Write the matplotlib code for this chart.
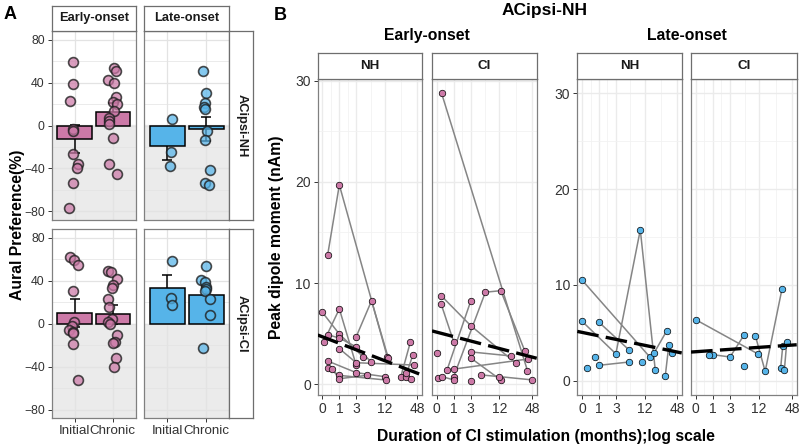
import numpy as np
import matplotlib.pyplot as plt
from matplotlib.colors import to_rgba

plt.rcParams['font.family'] = ['Liberation Sans', 'DejaVu Sans']

W, H = 799, 445
PINK = '#CC79A7'
BLUE = '#56B4E9'
GRID = '#E3E3E3'
FRAME = '#808080'

# ---------------- panel A: aural preference ----------------
groups = ['Initial', 'Chronic']

# bar means and standard errors, [Initial, Chronic]
nh_early_mean = [-12.6, 13.0]
nh_early_se = [13.0, 7.6]
nh_late_mean = [-19.4, -3.4]
nh_late_se = [12.3, 11.2]
ci_early_mean = [10.3, 8.7]
ci_early_se = [13.0, 8.7]
ci_late_mean = [33.0, 26.5]
ci_late_se = [12.5, 7.5]

# individual subjects (values) and their jitter as drawn
nh_early_init = [58.7, 38.6, 23.1, -3, -5, -27, -36, -40, -54, -77]
nh_early_init_jit = [-0.03, -0.03, -0.12, -0.05, -0.04, -0.05, 0.10, 0.07, -0.03, -0.14]
nh_early_chr = [53.7, 50.6, 42.3, 39.8, 26.9, 22.2, 19.8, 13.6, 7, 4, 1, -11.7, -35.5, -44.8]
nh_early_chr_jit = [0.04, 0.08, -0.12, 0.04, 0.08, 0.0, 0.10, 0.04, -0.09, -0.09, -0.09, 0.0, -0.09, 0.10]
nh_late_init = [5.9, -25, -38]
nh_late_init_jit = [0.12, 0.10, 0.07]
nh_late_chr = [50.4, 30, 20.7, 17, 15.5, -5.5, -13.2, -41, -54, -55]
nh_late_chr_jit = [-0.09, 0.0, -0.04, -0.06, -0.02, 0.03, -0.02, 0.10, -0.02, 0.07]

ci_early_init = [62, 59.5, 55, 30.5, 2, -2.2, -5.5, -7.5, -9, -18.5, -52.7]
ci_early_init_jit = [-0.12, -0.02, 0.10, -0.03, -0.02, -0.08, -0.14, -0.03, -0.03, -0.03, 0.08]
ci_early_chr = [49, 48.5, 41.5, 36.5, 33.5, 23.5, 15.7, 4.4, 1.9, 0.2, -10.3, -16.6, -18.2, -31.7, -40.1]
ci_early_chr_jit = [-0.12, -0.05, 0.10, 0.01, -0.03, -0.12, -0.09, -0.03, -0.12, -0.07, 0.10, 0.06, 0.01, 0.08, 0.04]
ci_late_init = [58.5, 23.6, 17.1]
ci_late_init_jit = [0.12, 0.09, 0.12]
ci_late_chr = [53.5, 40.4, 39, 34.5, 32.7, 30.5, 23.3, 8.2, -22.4]
ci_late_chr_jit = [0.0, -0.12, -0.03, 0.0, 0.0, -0.02, 0.10, 0.10, -0.09]

# ---------------- panel B: peak dipole moment ----------------
# subject id, months of CI use, peak dipole moment (nAm)
en_nh_id = [1, 1, 1, 2, 2, 2, 3, 3, 3, 4, 4, 4, 5, 5, 5, 5, 6, 6, 6, 7, 7, 7, 8, 8, 8, 9, 9, 9, 10, 10, 11, 11, 12, 12]
en_nh_mo = [0.24, 1, 13.3, 3, 6.5, 14, 0, 1, 4.26, 0.05, 1, 3, 0.24, 1, 3, 6.4, 1, 3, 42.7,
            0.24, 3, 11.9, 0.24, 1, 12.5, 0.5, 1, 5.3, 24, 36, 29.3, 39.8, 29.3, 37.7]
en_nh_val = [12.8, 19.7, 2.73, 4.7, 8.25, 2.55, 7.1, 4.96, 2.73, 4.18, 7.45, 1.88, 4.9, 4.57, 3.7, 2.2,
             3.52, 2.13, 1.9, 2.3, 1.15, 0.75, 1.64, 0.88, 0.42, 1.5, 0.55, 0.89, 0.76, 4.18, 0.76, 2.87,
             1.15, 0.5]

en_ci_id = [1, 1, 2, 2, 2, 3, 3, 4, 4, 5, 5, 5, 5, 6, 6, 7, 7, 8, 8, 8, 9, 9, 10, 10, 10, 11, 12]
en_ci_mo = [0.22, 39.8, 0.2, 3, 24.4, 0.2, 1, 0.52, 3, 1, 6.3, 12.7, 35.6, 3, 19.7, 1, 41,
            0.05, 0.24, 1, 3, 12.7, 5.2, 11.8, 49, 0, 3]
en_ci_val = [28.75, 1.35, 8.75, 5.8, 2.08, 7.9, 4.2, 1.4, 8.2, 0.76, 9.1, 9.25, 3.3, 3.2, 2.8, 1.5, 2.5,
             0.6, 0.76, 0.43, 2.6, 0.43, 0.92, 0.76, 0.43, 3.07, 0.36]

lo_nh_id = [1, 1, 2, 2, 2, 2, 3, 3, 4, 5, 6, 6, 7, 8, 8, 9, 10, 10]
lo_nh_mo = [0, 15.1, 0, 3, 9.9, 19.1, 1, 6, 0.22, 0.72, 1, 6, 10.9, 29.3, 34.2, 38.8, 18.3, 31.1]
lo_nh_val = [10.5, 2.47, 6.2, 2.8, 15.75, 1.15, 6.1, 3.16, 1.32, 2.43, 1.6, 1.95, 1.98, 0.45, 3.75,
             2.89, 2.92, 5.18]

lo_ci_id = [1, 1, 2, 2, 2, 3, 4, 5, 5, 5, 6, 6, 7, 7]
lo_ci_mo = [0, 11.3, 1, 3, 6, 0.74, 6, 10.2, 15.6, 31.9, 30.1, 32.8, 35.1, 38.8]
lo_ci_val = [6.36, 2.8, 2.71, 2.47, 4.73, 2.71, 1.5, 4.66, 0.97, 9.6, 1.32, 3.58, 1.07, 4.0]

# linear fits on log(1 + months): intercept, slope
en_nh_fit = (4.69, -0.923)
en_ci_fit = (5.15, -0.631)
lo_nh_fit = (5.04, -0.526)
lo_ci_fit = (3.02, 0.178)

month_ticks = [0, 1, 3, 12, 48]


fig = plt.figure(figsize=(W / 100, H / 100), dpi=100)


def add_ax(x0, y0, x1, y1):
    # pixel box (top-left origin) -> figure axes
    return fig.add_axes([x0 / W, 1 - y1 / H, (x1 - x0) / W, (y1 - y0) / H])


def frame(ax, color=FRAME, lw=0.9):
    for s in ax.spines.values():
        s.set_color(color)
        s.set_linewidth(lw)


def strip(box, text, rot=0, size=9.3):
    ax = add_ax(*box)
    ax.set_xticks([])
    ax.set_yticks([])
    ax.set_facecolor('white')
    frame(ax, '#6E6E6E')
    ax.text(0.5, 0.5, text, transform=ax.transAxes, ha='center', va='center',
            rotation=rot, fontsize=size, fontweight='bold', color='#1A1A1A')


def bar_panel(ax, means, ses, init, init_jit, chr_, chr_jit, color, left, bottom):
    ax.axhspan(-100, 0, color='#EBEBEB', zorder=0)
    x = np.arange(1, 3)
    ax.errorbar(x, means, yerr=ses, fmt='none', ecolor='black', elinewidth=1.1,
                capsize=3.5, capthick=1.1, zorder=1.5)
    ax.bar(x, means, width=0.9, color=color, edgecolor='black', linewidth=1.1, zorder=2)
    for xi, ys, js in ((1, init, init_jit), (2, chr_, chr_jit)):
        ax.scatter(xi + np.array(js), ys, s=50, facecolor=to_rgba(color, 0.72),
                   edgecolor=(0.12, 0.12, 0.12, 0.8), linewidths=1.2, zorder=3)
    ax.set_xlim(0.4, 2.6)
    ax.set_ylim(-88, 88)
    ax.set_xticks(x)
    ax.set_xticklabels(groups)
    ax.set_yticks([-80, -40, 0, 40, 80])
    ax.set_yticks([-60, -20, 20, 60], minor=True)
    ax.grid(which='major', color=GRID, lw=0.9)
    ax.grid(which='minor', axis='y', color=GRID, lw=0.5)
    ax.set_axisbelow(True)
    ax.tick_params(which='minor', length=0)
    ax.tick_params(axis='y', labelsize=8.8, colors='#333333', length=3, width=0.7,
                   labelleft=left, left=left, pad=2)
    ax.tick_params(axis='x', labelsize=9.6, colors='#333333', length=3, width=0.7,
                   labelbottom=bottom, bottom=bottom, pad=2)
    frame(ax)


def fwd(x):
    with np.errstate(invalid='ignore', divide='ignore'):
        return np.log1p(x)


def inv(x):
    return np.expm1(x)


def dipole_panel(ax, ids, mos, vals, color, fit, ylim, left):
    ax.set_xscale('function', functions=(fwd, inv))
    ids = np.array(ids)
    mos = np.array(mos, dtype=float)
    vals = np.array(vals, dtype=float)
    for sid in np.unique(ids):
        sel = ids == sid
        ax.plot(mos[sel], vals[sel], color='#858585', lw=1.1, zorder=2)
    ax.scatter(mos, vals, s=22, c=color, edgecolor='black', linewidths=0.5, zorder=3)
    lo, hi = -0.195, 4.087
    u = np.linspace(lo, hi, 60)
    ax.plot(inv(u), fit[0] + fit[1] * u, color='black', lw=2.4, dashes=(6.5, 2.2),
            zorder=4, solid_capstyle='butt', dash_capstyle='butt')
    ax.set_xlim(inv(lo), inv(hi))
    ax.set_ylim(*ylim)
    ax.set_xticks(month_ticks)
    ax.set_xticklabels([str(m) for m in month_ticks])
    t = fwd(np.array(month_ticks, dtype=float))
    ax.set_xticks(inv((t[:-1] + t[1:]) / 2), minor=True)
    ax.set_yticks([0, 10, 20, 30])
    ax.set_yticks([5, 15, 25], minor=True)
    ax.grid(which='major', color='#EBEBEB', lw=1.0)
    ax.grid(which='minor', color='#F2F2F2', lw=0.6)
    ax.set_axisbelow(True)
    ax.tick_params(which='minor', length=0)
    ax.tick_params(axis='x', labelsize=10, colors='#333333', length=3, width=0.7, pad=2)
    ax.tick_params(axis='y', labelsize=10, colors='#333333', length=3, width=0.7,
                   labelleft=left, left=left, pad=2)
    frame(ax)


# ---- A ----
bar_panel(add_ax(51.7, 31, 135.7, 220), nh_early_mean, nh_early_se, nh_early_init,
          nh_early_init_jit, nh_early_chr, nh_early_chr_jit, PINK, True, False)
bar_panel(add_ax(144.3, 31, 229.3, 220), nh_late_mean, nh_late_se, nh_late_init,
          nh_late_init_jit, nh_late_chr, nh_late_chr_jit, BLUE, False, False)
bar_panel(add_ax(51.7, 229.3, 135.7, 418.3), ci_early_mean, ci_early_se, ci_early_init,
          ci_early_init_jit, ci_early_chr, ci_early_chr_jit, PINK, True, True)
bar_panel(add_ax(144.3, 229.3, 229.3, 418.3), ci_late_mean, ci_late_se, ci_late_init,
          ci_late_init_jit, ci_late_chr, ci_late_chr_jit, BLUE, False, True)

strip((51.7, 5.7, 135.7, 31), 'Early-onset')
strip((144.3, 5.7, 229.3, 31), 'Late-onset')
strip((229.3, 31, 253.3, 220), 'ACipsi-NH', rot=-90)
strip((229.3, 229.3, 253.3, 418.3), 'ACipsi-CI', rot=-90)

# ---- B ----
dipole_panel(add_ax(317.7, 79, 422, 395), en_nh_id, en_nh_mo, en_nh_val, PINK, en_nh_fit,
             (-1.06, 30.17), True)
dipole_panel(add_ax(432, 79, 536.7, 395), en_ci_id, en_ci_mo, en_ci_val, PINK, en_ci_fit,
             (-1.06, 30.17), False)
dipole_panel(add_ax(577.3, 79, 681.7, 395), lo_nh_id, lo_nh_mo, lo_nh_val, BLUE, lo_nh_fit,
             (-1.5, 31.5), True)
dipole_panel(add_ax(691, 79, 796.7, 395), lo_ci_id, lo_ci_mo, lo_ci_val, BLUE, lo_ci_fit,
             (-1.5, 31.5), False)

strip((317.7, 53.3, 422, 79), 'NH', size=9.6)
strip((432, 53.3, 536.7, 79), 'CI', size=9.6)
strip((577.3, 53.3, 681.7, 79), 'NH', size=9.6)
strip((691, 53.3, 796.7, 79), 'CI', size=9.6)


def ftext(x, y, s, **kw):
    fig.text(x / W, 1 - y / H, s, ha='center', va='center', fontweight='bold', **kw)


ftext(9.7, 14.5, 'A', fontsize=13)
ftext(280.3, 15, 'B', fontsize=13)
ftext(18, 224.5, 'Aural Preference(%)', fontsize=11.3, rotation=90)
ftext(545, 11, 'ACipsi-NH', fontsize=12.5)
ftext(427.2, 35.5, 'Early-onset', fontsize=11.3)
ftext(687, 35.5, 'Late-onset', fontsize=11.3)
ftext(276.5, 237, 'Peak dipole moment (nAm)', fontsize=11.3, rotation=90)
ftext(546, 436, 'Duration of CI stimulation (months);log scale', fontsize=11.3)

fig.savefig('out.png', dpi=100)
